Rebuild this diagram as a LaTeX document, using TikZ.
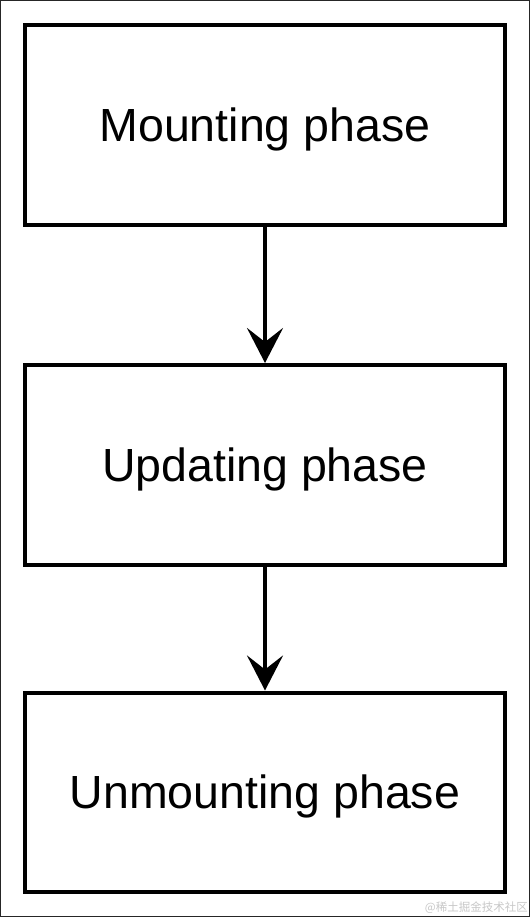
\documentclass[tikz,border=0pt]{standalone}
\usepackage{fontspec}
\setmainfont{Liberation Sans}
\newfontfamily\cjkfont{Noto Sans CJK SC}
\usetikzlibrary{arrows.meta}
\tikzset{
  phasebox/.style={draw, line width=4pt, minimum width=480pt, minimum height=200pt,
    text height=36pt, text depth=4pt, font=\fontsize{46.5}{55}\selectfont},
  flow/.style={line width=4pt, -{Stealth[length=35pt, width=36pt, inset=14pt]}},
}

\begin{document}
\begin{tikzpicture}[x=1pt, y=-1pt]
			%%%%% START %%%%%
			\useasboundingbox (0, 0) rectangle (530, 918);
			\draw[line width=1pt, color=black!85] (0.5, 0.5) rectangle (529, 916.5);
			
			\node[phasebox] (mount) at (265, 125) {Mounting phase};
			\node[phasebox] (update) at (265, 465) {Updating phase};
			\node[phasebox, minimum height=199pt] (unmount) at (265, 792) {Unmounting phase};
			
			\draw[flow] (mount) -- (update);
			\draw[flow] (update) -- (unmount);
			
			\node[anchor=east, inner sep=0pt, color=black!22, font=\cjkfont\fontsize{11.5}{12}\selectfont] (mark) at (528, 908) {@稀土掘金技术社区};
			%%%%% END %%%%%
\end{tikzpicture}
\end{document}
